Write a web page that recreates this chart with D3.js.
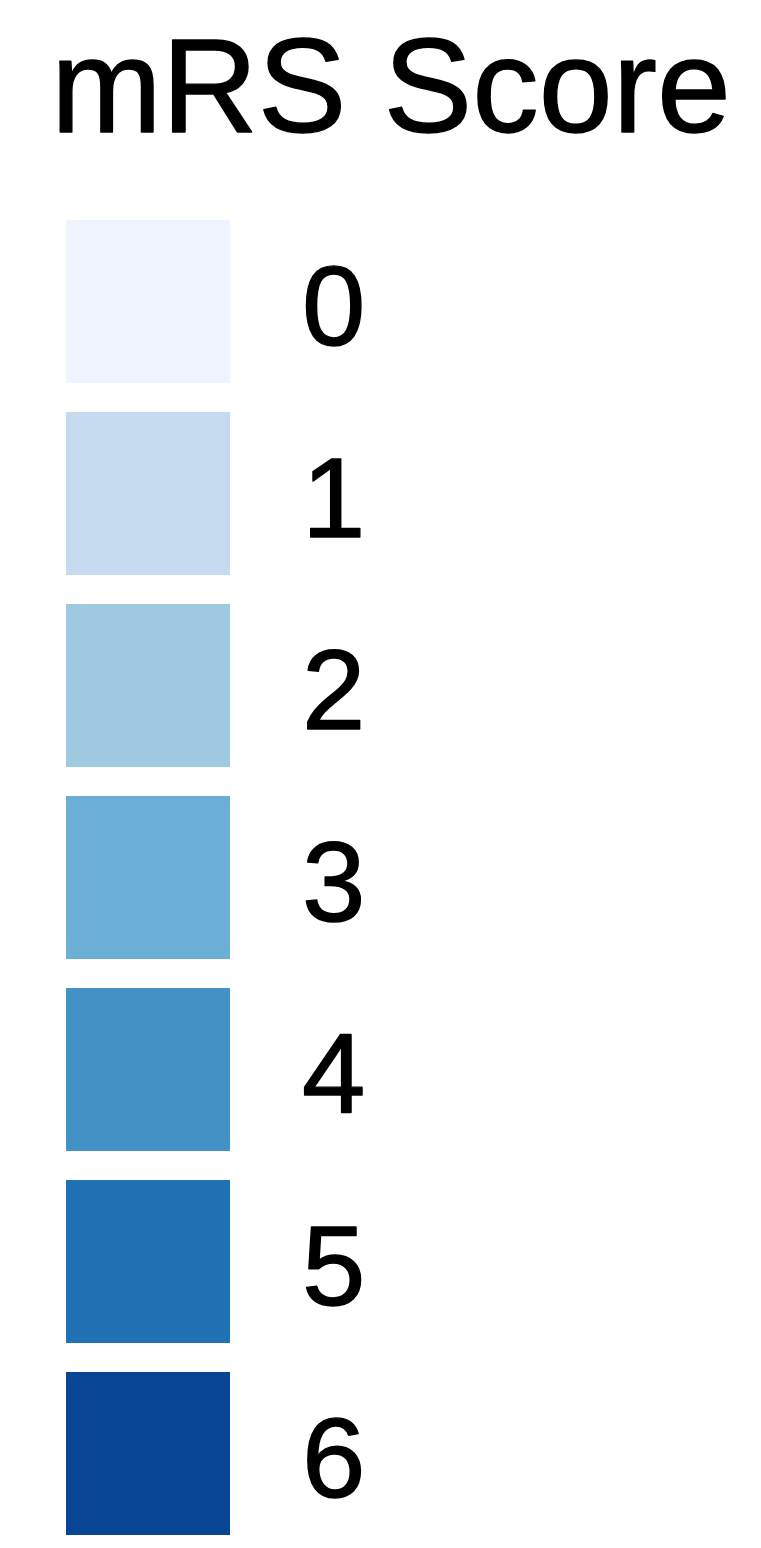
<!DOCTYPE html>
<html>
<head>
<meta charset="utf-8">
<script src="https://cdn.jsdelivr.net/npm/d3@7"></script>
<style>
  html, body { margin: 0; padding: 0; background: #fff; }
  svg { display: block; }
</style>
</head>
<body>
<svg id="chart" width="761" height="1548"></svg>
<script>
const title = "mRS Score";
const categories = ["0", "1", "2", "3", "4", "5", "6"];
const colors = ["#eff3ff", "#c6dbef", "#9ecae1", "#6baed6", "#4292c6", "#2171b5", "#084594"];

const svg = d3.select("#chart");
const font = "'Liberation Sans', Arial, Helvetica, sans-serif";

svg.append("text")
  .attr("x", 51)
  .attr("y", 132)
  .attr("font-family", font)
  .attr("font-size", 133)
  .attr("fill", "#000")
  .attr("stroke", "#000")
  .attr("stroke-width", 1.4)
  .attr("stroke-linejoin", "round")
  .text(title);

const y = d3.scaleBand()
  .domain(categories)
  .range([220, 1535])
  .paddingInner(29 / 192)
  .paddingOuter(0);

const color = d3.scaleOrdinal().domain(categories).range(colors);

const items = svg.append("g").selectAll("g")
  .data(categories)
  .join("g");

items.append("rect")
  .attr("x", 66)
  .attr("y", d => y(d))
  .attr("width", 164)
  .attr("height", y.bandwidth())
  .attr("fill", d => color(d));

items.append("text")
  .attr("x", 302)
  .attr("y", d => y(d) + 125)
  .attr("font-family", font)
  .attr("font-size", 114)
  .attr("fill", "#000")
  .attr("stroke", "#000")
  .attr("stroke-width", 1.4)
  .attr("stroke-linejoin", "round")
  .text(d => d);
</script>
</body>
</html>
